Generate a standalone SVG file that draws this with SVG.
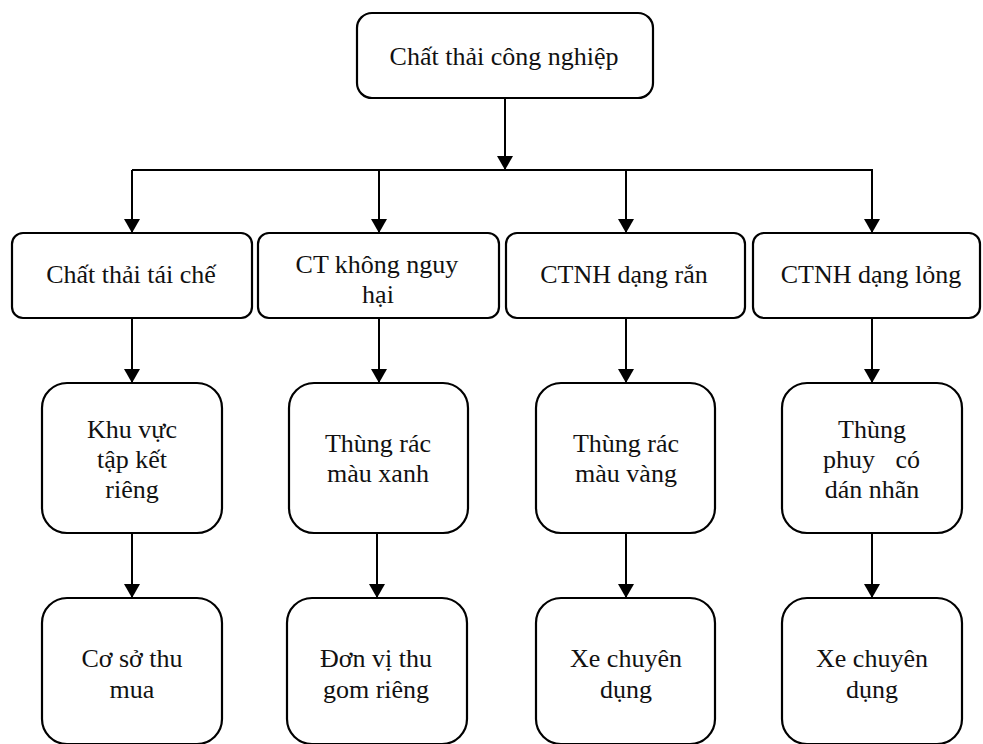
<svg xmlns="http://www.w3.org/2000/svg" width="983" height="744" viewBox="0 0 983 744">
<style>
.box{fill:#fff;stroke:#000;stroke-width:2.2}
.t{font-family:"Liberation Serif","Times New Roman",serif;font-size:26px;fill:#111;text-anchor:middle}
.ln{stroke:#000;stroke-width:2;fill:none}
.ar{stroke:#000;stroke-width:2;fill:none;marker-end:url(#ah)}
</style>
<defs>
<marker id="ah" viewBox="0 0 14 16" refX="14" refY="8" markerWidth="14" markerHeight="16" markerUnits="userSpaceOnUse" orient="auto">
<path d="M0,0 L14,8 L0,16 z" fill="#000"/>
</marker>
</defs>
<rect width="983" height="744" fill="#fff"/>
<g id="connectors">
<path class="ar" d="M505,98 V170"/>
<path class="ln" d="M132,170 H873"/>
<path class="ar" d="M132,170 V233"/>
<path class="ar" d="M379,170 V233"/>
<path class="ar" d="M626,170 V233"/>
<path class="ar" d="M872,170 V233"/>
<path class="ar" d="M132,318 V383"/>
<path class="ar" d="M379,318 V383"/>
<path class="ar" d="M626,318 V383"/>
<path class="ar" d="M872,318 V383"/>
<path class="ar" d="M132,533 V598"/>
<path class="ar" d="M377,533 V598"/>
<path class="ar" d="M626,533 V598"/>
<path class="ar" d="M872,533 V598"/>
</g>
<g id="n-root"><rect class="box" x="357" y="13" width="296" height="85" rx="15"/><text class="t" x="504" y="65">Chất thải công nghiệp</text></g>
<g id="n-taiche"><rect class="box" x="12" y="233" width="240" height="85" rx="11"/><text class="t" x="131" y="283">Chất thải tái chế</text></g>
<g id="n-khongnguyhai"><rect class="box" x="258" y="233" width="241" height="85" rx="11"/><text class="t" x="377" y="273">CT không nguy</text><text class="t" x="378" y="303">hại</text></g>
<g id="n-ctnhran"><rect class="box" x="506" y="233" width="239" height="85" rx="11"/><text class="t" x="624" y="283">CTNH dạng rắn</text></g>
<g id="n-ctnhlong"><rect class="box" x="753" y="233" width="227" height="85" rx="11"/><text class="t" x="871" y="283">CTNH dạng lỏng</text></g>
<g id="n-khuvuc"><rect class="box" x="42" y="383" width="180" height="150" rx="25"/><text class="t" x="132" y="438">Khu vực</text><text class="t" x="132" y="468">tập kết</text><text class="t" x="132" y="498">riêng</text></g>
<g id="n-thungxanh"><rect class="box" x="289" y="383" width="179" height="150" rx="25"/><text class="t" x="378" y="452">Thùng rác</text><text class="t" x="378" y="482">màu xanh</text></g>
<g id="n-thungvang"><rect class="box" x="536" y="383" width="179" height="150" rx="25"/><text class="t" x="626" y="452">Thùng rác</text><text class="t" x="626" y="482">màu vàng</text></g>
<g id="n-thungphuy"><rect class="box" x="782" y="383" width="180" height="150" rx="25"/><text class="t" x="872" y="438">Thùng</text><text class="t"><tspan x="823" y="468" text-anchor="start">phuy</tspan><tspan x="920" y="468" text-anchor="end">có</tspan></text><text class="t" x="872" y="498">dán nhãn</text></g>
<g id="n-coso"><rect class="box" x="42" y="598" width="180" height="146" rx="25"/><text class="t" x="132" y="667">Cơ sở thu</text><text class="t" x="132" y="698">mua</text></g>
<g id="n-donvi"><rect class="box" x="287" y="598" width="180" height="146" rx="25"/><text class="t" x="376" y="667">Đơn vị thu</text><text class="t" x="376" y="698">gom riêng</text></g>
<g id="n-xe1"><rect class="box" x="536" y="598" width="179" height="146" rx="25"/><text class="t" x="626" y="667">Xe chuyên</text><text class="t" x="626" y="698">dụng</text></g>
<g id="n-xe2"><rect class="box" x="782" y="598" width="180" height="146" rx="25"/><text class="t" x="872" y="667">Xe chuyên</text><text class="t" x="872" y="698">dụng</text></g>
</svg>
